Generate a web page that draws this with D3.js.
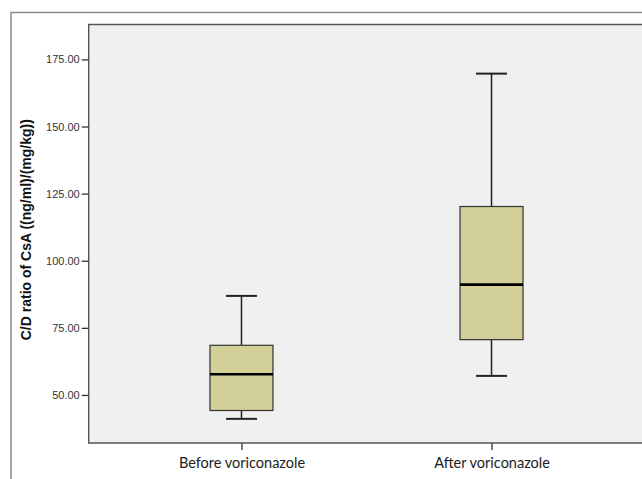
<!DOCTYPE html>
<html>
<head>
<meta charset="utf-8">
<script src="https://cdn.jsdelivr.net/npm/d3@7"></script>
<style>
  html, body { margin: 0; padding: 0; background: #ffffff; overflow: hidden; }
  svg { display: block; overflow: hidden; }
</style>
</head>
<body>
<svg id="chart" width="642" height="479"></svg>
<script>
// ---- data ----
const categories = ["Before voriconazole", "After voriconazole"];
const whiskerLow  = [41.1, 57.1];
const q1Values    = [44.2, 70.6];
const medians     = [57.7, 91.1];
const q3Values    = [68.5, 120.2];
const whiskerHigh = [86.9, 169.7];
const yTicks = [50, 75, 100, 125, 150, 175];
const yTitle = "C/D ratio of CsA ((ng/ml)/(mg/kg))";

// ---- layout ----
const W = 642, H = 479;
const svg = d3.select("#chart");
svg.append("rect").attr("width", W).attr("height", H).attr("fill", "#ffffff");
const plot = { left: 88.7, top: 24.5, right: 644.3, bottom: 443 };

const y = d3.scaleLinear().domain([32.1, 188.0]).range([plot.bottom, plot.top]);
const x = d3.scalePoint().domain(categories).range([plot.left, plot.right]).padding(0.611);

// outer frame (left and top edges visible)
svg.append("path")
  .attr("d", `M11,${H} V12.5 H${W}`)
  .attr("fill", "none")
  .attr("stroke", "#8a8a8a").attr("stroke-width", 1.5);

// plot background and frame
svg.append("rect")
  .attr("x", plot.left).attr("y", plot.top)
  .attr("width", W - plot.left).attr("height", plot.bottom - plot.top)
  .attr("fill", "#f0f0f0");
svg.append("path")
  .attr("d", `M${W},${plot.top} H${plot.left} V${plot.bottom} H${W}`)
  .attr("fill", "none")
  .attr("stroke", "#555555").attr("stroke-width", 1.4);

// y axis
const yAxis = d3.axisLeft(y).tickValues(yTicks).tickSize(7).tickPadding(2)
  .tickFormat(d3.format(".2f"));
const yg = svg.append("g").attr("transform", `translate(${plot.left},0)`).call(yAxis);
yg.select(".domain").remove();
yg.selectAll(".tick line").attr("stroke", "#333").attr("stroke-width", 1.3);
yg.selectAll(".tick text")
  .attr("font-family", "Liberation Sans, Arial, sans-serif")
  .attr("font-size", 11).attr("fill", "#333");

// x axis
const xAxis = d3.axisBottom(x).tickSize(7).tickPadding(8);
const xg = svg.append("g").attr("transform", `translate(0,${plot.bottom})`).call(xAxis);
xg.select(".domain").remove();
xg.selectAll(".tick line").attr("stroke", "#333").attr("stroke-width", 1.3);
xg.selectAll(".tick text")
  .attr("font-family", "Lato, 'Open Sans', sans-serif")
  .attr("font-size", 14.5).attr("fill", "#222");

// y title
svg.append("text")
  .attr("transform", `translate(26.5,229.7) rotate(-90)`)
  .attr("text-anchor", "middle").attr("dy", "0.35em")
  .attr("font-family", "Liberation Sans, Arial, sans-serif")
  .attr("font-weight", "bold").attr("font-size", 14).attr("fill", "#111")
  .text(yTitle);

// boxes
const boxW = 63, capW = 31;
const data = categories.map((c, i) => ({
  c, lo: whiskerLow[i], q1: q1Values[i], med: medians[i], q3: q3Values[i], hi: whiskerHigh[i]
}));
const g = svg.append("g").selectAll("g").data(data).join("g");

g.append("line")
  .attr("x1", d => x(d.c)).attr("x2", d => x(d.c))
  .attr("y1", d => y(d.hi)).attr("y2", d => y(d.q3))
  .attr("stroke", "#222").attr("stroke-width", 1.5);
g.append("line")
  .attr("x1", d => x(d.c)).attr("x2", d => x(d.c))
  .attr("y1", d => y(d.q1)).attr("y2", d => y(d.lo))
  .attr("stroke", "#222").attr("stroke-width", 1.5);
g.append("line")
  .attr("x1", d => x(d.c) - capW / 2).attr("x2", d => x(d.c) + capW / 2)
  .attr("y1", d => y(d.hi)).attr("y2", d => y(d.hi))
  .attr("stroke", "#222").attr("stroke-width", 2);
g.append("line")
  .attr("x1", d => x(d.c) - capW / 2).attr("x2", d => x(d.c) + capW / 2)
  .attr("y1", d => y(d.lo)).attr("y2", d => y(d.lo))
  .attr("stroke", "#222").attr("stroke-width", 2);

g.append("rect")
  .attr("x", d => x(d.c) - boxW / 2).attr("width", boxW)
  .attr("y", d => y(d.q3)).attr("height", d => y(d.q1) - y(d.q3))
  .attr("fill", "#d3cf98").attr("stroke", "#333").attr("stroke-width", 1.2);

g.append("line")
  .attr("x1", d => x(d.c) - boxW / 2).attr("x2", d => x(d.c) + boxW / 2)
  .attr("y1", d => y(d.med)).attr("y2", d => y(d.med))
  .attr("stroke", "#000").attr("stroke-width", 2.6);
</script>
</body>
</html>
